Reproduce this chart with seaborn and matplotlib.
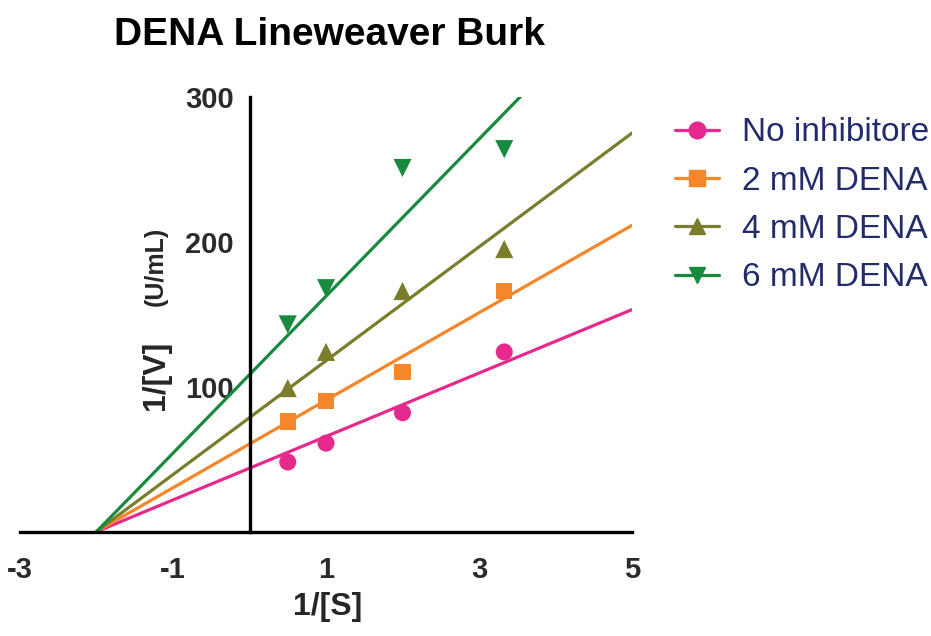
import numpy as np
import pandas as pd
import seaborn as sns
from matplotlib import pyplot as plt
from matplotlib.lines import Line2D

# data
series = ["No inhibitore", "2 mM DENA", "4 mM DENA", "6 mM DENA"]
inv_s = [0.5, 1.0, 2.0, 3.33]
inv_v_none = [48, 61, 82, 124]
inv_v_2mm = [76, 90, 110, 166]
inv_v_4mm = [99, 124, 166, 195]
inv_v_6mm = [143, 168, 251, 264]
fit_slope = [21.9, 30.2, 39.3, 54.2]
fit_intercept = [43.7, 60.4, 78.6, 108.3]
fit_x = [-2.0, 5.0]

colors = ["#E6298C", "#F5862A", "#7A7D2B", "#178A3E"]
markers = ["o", "s", "^", "v"]
sizes = [150, 140, 170, 170]

sns.set_style("white")
plt.rcParams["font.family"] = ["Liberation Sans", "DejaVu Sans"]
plt.rcParams["axes.unicode_minus"] = False

points = pd.DataFrame({
    "x": inv_s * 4,
    "y": inv_v_none + inv_v_2mm + inv_v_4mm + inv_v_6mm,
    "group": [s for s in series for _ in inv_s],
})
fits = pd.DataFrame({
    "x": fit_x * 4,
    "y": [b + m * x for m, b in zip(fit_slope, fit_intercept) for x in fit_x],
    "group": [s for s in series for _ in fit_x],
})

fig = plt.figure(figsize=(9.31, 6.36), dpi=100)
ax = fig.add_axes([20 / 931, 1 - 531.5 / 636, 612 / 931, 434.5 / 636])

palette = dict(zip(series, colors))
sns.lineplot(data=fits, x="x", y="y", hue="group", palette=palette,
             linewidth=2.3, legend=False, ax=ax)
for s, mk, sz in zip(series, markers, sizes):
    sub = points[points["group"] == s]
    sns.scatterplot(data=sub, x="x", y="y", color=palette[s], marker=mk,
                    s=sz, edgecolor="none", legend=False, ax=ax, zorder=3)

ax.set_xlim(-3, 5)
ax.set_ylim(0, 300)
ax.spines["left"].set_position(("data", 0))
ax.spines["bottom"].set_position(("data", 0))
ax.spines["top"].set_visible(False)
ax.spines["right"].set_visible(False)
for sp in ["left", "bottom"]:
    ax.spines[sp].set_linewidth(2.4)
    ax.spines[sp].set_color("black")

ax.set_xticks([-3, -1, 1, 3, 5])
ax.set_yticks([100, 200, 300])
ax.tick_params(axis="both", direction="out", length=9.5, width=2.4,
               color="black", labelsize=21, labelcolor="#2b2b2b")
ax.tick_params(axis="x", pad=8)
ax.tick_params(axis="y", pad=2)
for lab in ax.get_xticklabels() + ax.get_yticklabels():
    lab.set_fontweight("bold")
ax.set_xlabel("")
ax.set_ylabel("")

fig.text(328 / 931, 1 - 607 / 636, "1/[S]", ha="center", va="center",
         fontsize=23, fontweight="bold")
fig.text(156 / 931, 1 - 375 / 636, "1/[V]", ha="center", va="center",
         rotation=90, fontsize=23, fontweight="bold")
fig.text(156 / 931, 1 - 266 / 636, "(U/mL)", ha="center", va="center",
         rotation=90, fontsize=18, fontweight="bold")
fig.text(330 / 931, 1 - 35 / 636, "DENA Lineweaver Burk", ha="center",
         va="center", fontsize=28, fontweight="bold", color="black")

handles = [Line2D([0], [0], color=c, marker=mk, markersize=12, linewidth=2.3)
           for c, mk in zip(colors, markers)]
leg = fig.legend(handles, series, loc="upper left",
                 bbox_to_anchor=(662 / 931, 1 - 104 / 636), frameon=False,
                 fontsize=24, handlelength=1.3, handletextpad=0.7,
                 labelspacing=0.52, borderaxespad=0)
for t in leg.get_texts():
    t.set_color("#222c6b")

fig.savefig("out.png", dpi=100)
